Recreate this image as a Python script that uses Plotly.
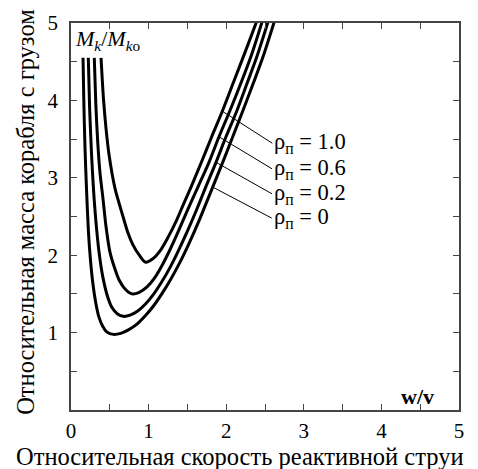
import plotly.graph_objects as go

# ---- data ----
rho_labels = ["1.0", "0.6", "0.2", "0"]

x_r10 = [0.387, 0.42, 0.455, 0.49, 0.53, 0.575, 0.62, 0.67, 0.73, 0.80, 0.88, 0.96,
         1.05, 1.15, 1.25, 1.36, 1.45, 1.555, 1.684, 1.813, 1.95, 2.10, 2.25, 2.40]
y_r10 = [4.55, 4.00, 3.60, 3.30, 3.05, 2.83, 2.67, 2.50, 2.30, 2.13, 2.00, 1.91,
         1.95, 2.06, 2.23, 2.45, 2.66, 2.90, 3.21, 3.53, 3.86, 4.25, 4.64, 5.04]

x_r06 = [0.30, 0.32, 0.345, 0.375, 0.41, 0.45, 0.50, 0.56, 0.62, 0.70, 0.786,
         0.88, 0.98, 1.08, 1.18, 1.28, 1.38, 1.50, 1.64, 1.778, 1.907, 2.049, 2.20, 2.33, 2.47]
y_r06 = [4.55, 3.95, 3.45, 3.05, 2.75, 2.38, 2.05, 1.84, 1.68, 1.56, 1.50,
         1.52, 1.59, 1.71, 1.88, 2.08, 2.30, 2.58, 2.89, 3.20, 3.53, 3.87, 4.25, 4.60, 5.04]

x_r02 = [0.223, 0.24, 0.265, 0.29, 0.32, 0.36, 0.41, 0.47, 0.53, 0.60, 0.674,
         0.76, 0.86, 0.96, 1.06, 1.16, 1.27, 1.38, 1.50, 1.62, 1.736, 1.869, 1.997, 2.139, 2.28, 2.40, 2.55]
y_r02 = [4.55, 3.90, 3.30, 2.85, 2.45, 2.05, 1.72, 1.47, 1.32, 1.24, 1.21,
         1.225, 1.28, 1.37, 1.49, 1.64, 1.83, 2.05, 2.31, 2.59, 2.88, 3.20, 3.53, 3.87, 4.25, 4.58, 5.05]

x_r00 = [0.155, 0.165, 0.18, 0.20, 0.225, 0.25, 0.28, 0.32, 0.36, 0.41, 0.46, 0.545,
         0.64, 0.74, 0.85, 0.96, 1.06, 1.17, 1.28, 1.40, 1.52, 1.66, 1.826, 1.955, 2.084, 2.216, 2.36, 2.48, 2.63]
y_r00 = [4.55, 4.00, 3.40, 2.85, 2.30, 1.95, 1.65, 1.38, 1.20, 1.08, 1.01, 0.977,
         0.99, 1.035, 1.11, 1.22, 1.34, 1.50, 1.68, 1.90, 2.15, 2.47, 2.88, 3.20, 3.53, 3.87, 4.25, 4.58, 5.05]

# points on the curves where the leader lines start
label_x = [1.95, 1.907, 1.869, 1.826]
label_y = [3.86, 3.53, 3.20, 2.88]

x_ticks = [0, 1, 2, 3, 4, 5]
y_ticks = [1, 2, 3, 4, 5]

FONT = "Liberation Serif"

fig = go.Figure()
for xs, ys in [(x_r10, y_r10), (x_r06, y_r06), (x_r02, y_r02), (x_r00, y_r00)]:
    fig.add_trace(go.Scatter(x=xs, y=ys, mode="lines",
                             line=dict(color="black", width=3, shape="spline", smoothing=0.8),
                             showlegend=False, hoverinfo="skip"))

tick_font = dict(family=FONT, size=21, color="black")
minor = dict(dtick=0.5, ticks="inside", ticklen=6, tickwidth=1.3, tickcolor="#444", showgrid=False)

fig.update_xaxes(range=[0, 5], tickvals=x_ticks, tickfont=tick_font, ticklabelstandoff=1,
                 showgrid=False, zeroline=False, showline=True, linecolor="#444", linewidth=1.5,
                 mirror="ticks", ticks="inside", ticklen=6, tickwidth=1.3, tickcolor="#444", minor=minor)
fig.update_yaxes(range=[0, 5], tickvals=y_ticks, tickfont=tick_font, ticklabelstandoff=7,
                 showgrid=False, zeroline=False, showline=True, linecolor="#444", linewidth=1.5,
                 mirror="ticks", ticks="inside", ticklen=6, tickwidth=1.3, tickcolor="#444", minor=minor)

ax_off = [50, 53, 56, 59]
ay_off = [32, 32, 31.5, 31]
for lx, ly, lab, dx, dy in zip(label_x, label_y, rho_labels, ax_off, ay_off):
    fig.add_annotation(x=lx, y=ly, xref="x", yref="y",
                       text="ρ<sub>п</sub> = " + lab,
                       showarrow=True, arrowhead=0, arrowwidth=1, arrowcolor="black",
                       ax=dx, ay=dy, xanchor="left", yanchor="middle",
                       font=dict(family=FONT, size=22.5, color="black"))

fig.add_annotation(x=0.005, y=0.955, xref="paper", yref="paper", showarrow=False,
                   text="<i>M</i><sub><i>k</i></sub>/<i>M</i><sub><i>k</i>o</sub>",
                   xanchor="left", yanchor="middle",
                   font=dict(family=FONT, size=22, color="black"))
fig.add_annotation(x=0.894, y=0.036, xref="paper", yref="paper", showarrow=False,
                   text="<b>w/v</b>", xanchor="center", yanchor="middle",
                   font=dict(family=FONT, size=22, color="black"))
fig.add_annotation(x=0.4356, y=-0.119, xref="paper", yref="paper", showarrow=False,
                   text="Относительная скорость реактивной струи",
                   xanchor="center", yanchor="middle", borderpad=0,
                   font=dict(family=FONT, size=24.5, color="black"))
fig.add_annotation(x=-0.116, y=0.512, xref="paper", yref="paper", showarrow=False,
                   text="Относительная масса корабля с грузом", textangle=-90,
                   xanchor="center", yanchor="middle",
                   font=dict(family=FONT, size=24.5, color="black"))

fig.update_layout(width=478, height=469,
                  margin=dict(l=71, r=19, t=23, b=59),
                  plot_bgcolor="white", paper_bgcolor="white")

fig.write_html("out.html")
